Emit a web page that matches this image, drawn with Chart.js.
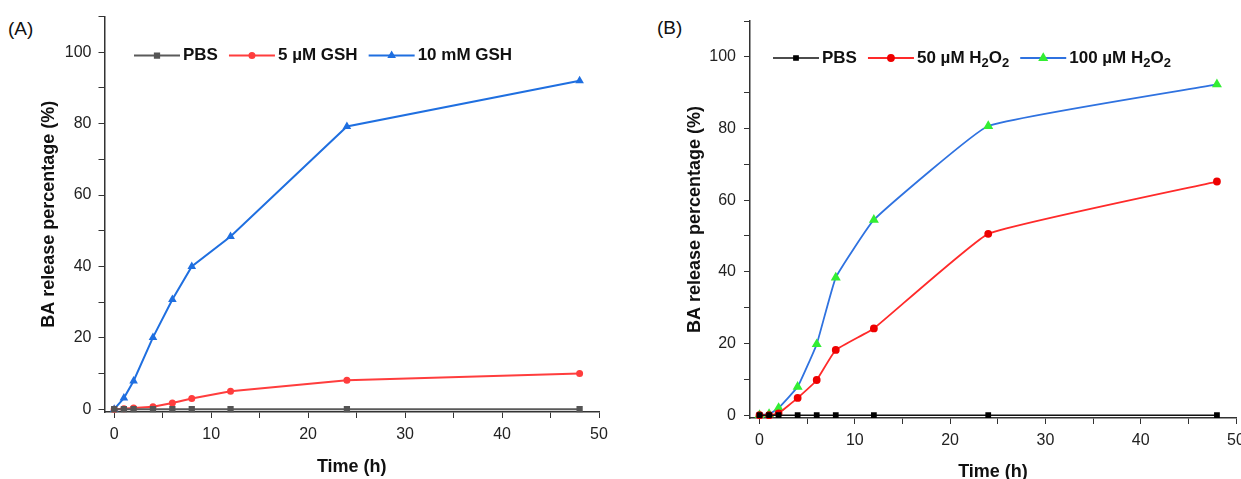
<!DOCTYPE html>
<html>
<head>
<meta charset="utf-8">
<script src="https://cdn.jsdelivr.net/npm/chart.js@4.4.0/dist/chart.umd.min.js"></script>
<style>
  body { margin: 0; width: 1241px; height: 479px; overflow: hidden; background: #fff; position: relative; font-family: Arial, "Liberation Sans", sans-serif; }
  .panel { position: absolute; top: 0; }
  .tag { position: absolute; font-size: 19px; color: #111; }
</style>
</head>
<body>
<div class="tag" style="left:8px;top:18px">(A)</div>
<div class="tag" style="left:657px;top:17px">(B)</div>
<div class="panel" style="left:0;width:620px;height:479px"><canvas id="chartA"></canvas></div>
<div class="panel" style="left:640px;width:620px;height:490px"><canvas id="chartB"></canvas></div>
<script>
// sampling times (h)
var times = [0, 1, 2, 4, 6, 8, 12, 24, 48];

// panel A
var namesA = ["PBS", "5 µM GSH", "10 mM GSH"];
var pbsA = [0, 0, 0, 0, 0, 0, 0, 0, 0];
var gsh5uM = [0, 0.1, 0.3, 0.7, 1.7, 3.0, 5.0, 8.1, 10.0];
var gsh10mM = [0, 3.1, 7.9, 20.1, 30.7, 40.0, 48.4, 79.2, 92.0];

// panel B
var namesB = ["PBS", "50 µM H₂O₂", "100 µM H₂O₂"];
var pbsB = [0, 0, 0, 0, 0, 0, 0, 0, 0];
var h2o2_50 = [0, 0, 0.5, 4.8, 9.8, 18.2, 24.2, 50.6, 65.2];
var h2o2_100 = [0, 0.3, 2.0, 7.9, 19.8, 38.4, 54.5, 80.7, 92.3];

// labelled ticks
var xLabels = [0, 10, 20, 30, 40, 50];
var yLabels = [0, 20, 40, 60, 80, 100];

var FONT = "Arial, 'Liberation Sans', sans-serif";

function pts(vals) {
  return times.map(function (t, i) { return { x: t, y: vals[i] }; });
}

// legend drawn inside the plot: line + marker + bold text (with subscripts)
var lineLegend = {
  id: "lineLegend",
  afterDraw: function (chart, args, opts) {
    var ctx = chart.ctx, area = chart.chartArea;
    var x = area.left + opts.offsetX, y = area.top + opts.offsetY;
    ctx.save();
    ctx.textBaseline = "middle";
    chart.data.datasets.forEach(function (ds) {
      ctx.strokeStyle = ds.borderColor;
      ctx.lineWidth = ds.borderWidth;
      ctx.beginPath();
      ctx.moveTo(x, y);
      ctx.lineTo(x + 46, y);
      ctx.stroke();
      ctx.fillStyle = ds.pointBackgroundColor;
      ctx.strokeStyle = ds.pointBorderColor;
      Chart.helpers.drawPoint(ctx, { pointStyle: ds.pointStyle, radius: ds.pointRadius, rotation: 0, borderWidth: 1 }, x + 23, y);
      x += 49;
      ctx.fillStyle = "#111";
      ds.label.split(/(₂)/).forEach(function (seg) {
        if (!seg) return;
        if (seg === "₂") {
          ctx.font = "bold 13px " + FONT;
          ctx.fillText("2", x, y + 5);
          x += ctx.measureText("2").width;
        } else {
          ctx.font = "bold 17px " + FONT;
          ctx.fillText(seg, x, y);
          x += ctx.measureText(seg).width;
        }
      });
      x += 11;
    });
    ctx.restore();
  }
};

function makeOptions(p) {
  return {
    responsive: true,
    maintainAspectRatio: false,
    animation: false,
    layout: { padding: { left: 0, top: p.top, right: p.right, bottom: 0 } },
    plugins: {
      legend: { display: false },
      tooltip: { enabled: false },
      lineLegend: { offsetX: p.legX, offsetY: p.legY }
    },
    scales: {
      x: {
        type: "linear",
        min: -1,
        max: 50,
        afterFit: function (s) { s.height = p.xH; },
        border: { color: "#333", width: 1.5 },
        grid: { drawOnChartArea: false, color: "#333", tickLength: 6 },
        ticks: {
          stepSize: 5,
          includeBounds: false,
          padding: 7,
          color: "#222",
          font: { family: FONT, size: 16 },
          maxRotation: 0,
          autoSkip: false,
          callback: function (v) { return xLabels.indexOf(v) >= 0 ? v : ""; }
        },
        title: { display: true, text: "Time (h)", color: "#111", font: { family: FONT, size: 18, weight: "bold" }, padding: { top: 0, bottom: p.xTitlePad } }
      },
      y: {
        min: -0.8,
        max: 110,
        afterFit: function (s) { s.width = p.yW; },
        border: { color: "#333", width: 1.5 },
        grid: { drawOnChartArea: false, color: "#333", tickLength: 6 },
        ticks: {
          stepSize: 10,
          includeBounds: false,
          padding: p.yTickPad,
          color: "#222",
          font: { family: FONT, size: 16 },
          autoSkip: false,
          callback: function (v) { return yLabels.indexOf(v) >= 0 ? v : ""; }
        },
        title: { display: true, text: "BA release percentage (%)", color: "#111", font: { family: FONT, size: 18, weight: "bold" }, padding: { top: p.yTitlePad, bottom: 0 } }
      }
    }
  };
}

new Chart("chartA", {
  type: "line",
  data: {
    datasets: [
      { label: namesA[0], data: pts(pbsA), borderColor: "#5a5a5a", borderWidth: 2, pointStyle: "rect", pointRadius: 3, pointBackgroundColor: "#555", pointBorderColor: "#555", clip: false },
      { label: namesA[1], data: pts(gsh5uM), borderColor: "#ff3d3d", borderWidth: 2, pointStyle: "circle", pointRadius: 2.5, pointBackgroundColor: "#ff3d3d", pointBorderColor: "#ff3d3d", clip: false },
      { label: namesA[2], data: pts(gsh10mM), borderColor: "#1f6fe0", borderWidth: 2, pointStyle: "triangle", pointRadius: 3, pointBackgroundColor: "#1f6fe0", pointBorderColor: "#1f6fe0", clip: false }
    ]
  },
  options: makeOptions({ top: 15, right: 21, xH: 67, yW: 104.5, xTitlePad: 1.2, yTitlePad: 38, yTickPad: 7, legX: 29.5, legY: 39 }),
  plugins: [lineLegend]
});

new Chart("chartB", {
  type: "line",
  data: {
    datasets: [
      { label: namesB[0], data: pts(pbsB), borderColor: "#111", borderWidth: 1.5, pointStyle: "rect", pointRadius: 3, pointBackgroundColor: "#000", pointBorderColor: "#000", clip: false },
      { label: namesB[1], data: pts(h2o2_50), borderColor: "#ff2a2a", borderWidth: 1.8, tension: 0.1, pointStyle: "circle", pointRadius: 3, pointBackgroundColor: "#ee0000", pointBorderColor: "#ee0000", clip: false },
      { label: namesB[2], data: pts(h2o2_100), borderColor: "#2f72e0", borderWidth: 1.8, tension: 0.1, pointStyle: "triangle", pointRadius: 4, pointBackgroundColor: "#33ee33", pointBorderColor: "#33ee33", clip: false }
    ]
  },
  options: makeOptions({ top: 21, right: 24, xH: 72, yW: 110, xTitlePad: 7.2, yTitlePad: 44.7, yTickPad: 8, legX: 23, legY: 37 }),
  plugins: [lineLegend]
});
</script>
</body>
</html>
